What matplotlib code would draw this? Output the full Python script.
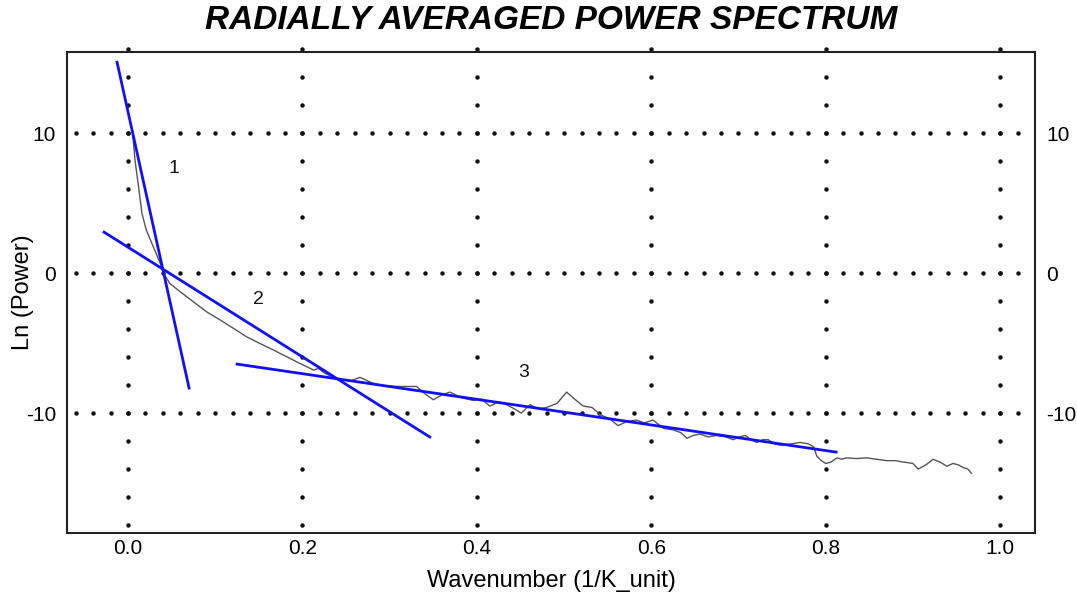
import matplotlib
matplotlib.use("Agg")
import matplotlib.pyplot as plt
import numpy as np
from matplotlib import font_manager

# radially averaged power spectrum
wavenumber = [0.005, 0.008, 0.012, 0.016, 0.021, 0.029, 0.037, 0.042, 0.048, 0.060,
              0.075, 0.090, 0.106, 0.121, 0.136, 0.151, 0.167, 0.182, 0.197, 0.213,
              0.218, 0.226, 0.241, 0.255, 0.266, 0.280, 0.292, 0.310, 0.331, 0.340,
              0.350, 0.360, 0.369, 0.382, 0.396, 0.405, 0.415, 0.425, 0.434, 0.443,
              0.451, 0.461, 0.470, 0.480, 0.492, 0.503, 0.512, 0.522, 0.532, 0.541,
              0.552, 0.562, 0.572, 0.583, 0.592, 0.602, 0.614, 0.625, 0.634, 0.641,
              0.648, 0.656, 0.665, 0.675, 0.685, 0.694, 0.701, 0.708, 0.714, 0.721,
              0.728, 0.734, 0.741, 0.748, 0.760, 0.771, 0.780, 0.786, 0.790, 0.795,
              0.800, 0.806, 0.813, 0.818, 0.824, 0.835, 0.847, 0.858, 0.870, 0.880,
              0.889, 0.895, 0.900, 0.906, 0.915, 0.923, 0.931, 0.939, 0.946, 0.952,
              0.958, 0.963, 0.967]
ln_power = [10.2, 8.07, 6.2, 4.26, 3.07, 1.88, 0.69, -0.14, -0.74, -1.34,
            -2.05, -2.76, -3.36, -3.95, -4.55, -5.02, -5.5, -5.98, -6.45, -6.93,
            -6.8, -7.17, -7.6, -7.7, -7.45, -7.85, -8.05, -8.1, -8.1, -8.6,
            -9.05, -8.7, -8.5, -8.9, -9.1, -9.0, -9.5, -9.2, -9.4, -9.7,
            -10.0, -9.4, -9.7, -9.6, -9.3, -8.5, -9.0, -9.5, -9.6, -10.1,
            -10.4, -10.9, -10.6, -10.5, -10.7, -10.5, -11.1, -11.2, -11.4, -11.8,
            -11.6, -11.5, -11.7, -11.6, -11.7, -11.9, -11.7, -11.6, -11.9, -12.1,
            -11.9, -11.9, -12.2, -12.3, -12.2, -12.1, -12.2, -12.4, -13.1, -13.4,
            -13.6, -13.5, -13.2, -13.3, -13.2, -13.25, -13.2, -13.3, -13.4, -13.4,
            -13.5, -13.55, -13.6, -14.0, -13.7, -13.3, -13.5, -13.8, -13.6, -13.7,
            -13.9, -14.0, -14.3]

# fitted segments
seg_x0 = [-0.0126, -0.0275, 0.125]
seg_y0 = [15.07, 2.93, -6.5]
seg_x1 = [0.07, 0.346, 0.812]
seg_y1 = [-8.21, -11.71, -12.79]
seg_names = ["1", "2", "3"]
name_x = [0.053, 0.150, 0.454]
name_y = [7.5, -1.9, -7.1]

xticks = [0.0, 0.2, 0.4, 0.6, 0.8, 1.0]
yticks = [-10, 0, 10]

names = {f.name for f in font_manager.fontManager.ttflist}
title_font = "Liberation Sans Narrow" if "Liberation Sans Narrow" in names else "Liberation Sans"
plt.rcParams['font.family'] = ['Liberation Sans', 'DejaVu Sans']
plt.rcParams['axes.unicode_minus'] = False

fig = plt.figure(figsize=(10.77, 5.98), dpi=100)
ax = fig.add_axes([0.0622, 0.1087, 0.8988, 0.8043])
ax.set_xlim(-0.07, 1.04)
ax.set_ylim(-18.57, 15.8)

# dotted grid
for gx in xticks:
    gy = np.arange(-18, 16.1, 2)
    ax.plot([gx] * len(gy), gy, ls='none', marker='o', ms=2.2, color='#111111', zorder=1, clip_on=False)
for gy in yticks:
    gx = np.arange(-0.06, 1.021, 0.02)
    ax.plot(gx, [gy] * len(gx), ls='none', marker='o', ms=2.2, color='#111111', zorder=1)

ax.plot(wavenumber, ln_power, color='#555555', lw=1.0, zorder=2)

for i in range(len(seg_x0)):
    ax.plot([seg_x0[i], seg_x1[i]], [seg_y0[i], seg_y1[i]], color='#1010ff', lw=2, zorder=3)
    ax.text(name_x[i], name_y[i], seg_names[i], fontsize=14, color='#111111',
            ha='center', va='center', zorder=4)

ax.set_xticks(xticks)
ax.set_xticklabels(["%.1f" % v for v in xticks])
ax.set_yticks(yticks)
ax.tick_params(length=0, labelsize=15, labelright=True, right=True)
ax.tick_params(axis='x', pad=4)
ax.tick_params(axis='y', pad=8)
for s in ax.spines.values():
    s.set_linewidth(1.5)
    s.set_color('#222222')

ax.set_xlabel("Wavenumber (1/K_unit)", fontsize=17, labelpad=9)
ax.set_ylabel("Ln (Power)", fontsize=17)
ax.yaxis.set_label_coords(-0.034, 0.5)
fig.text(0.512, 0.966, "RADIALLY AVERAGED POWER SPECTRUM", ha='center', va='center',
         fontsize=24, fontweight='bold', style='italic', family=title_font)

fig.savefig("out.png", dpi=100)
